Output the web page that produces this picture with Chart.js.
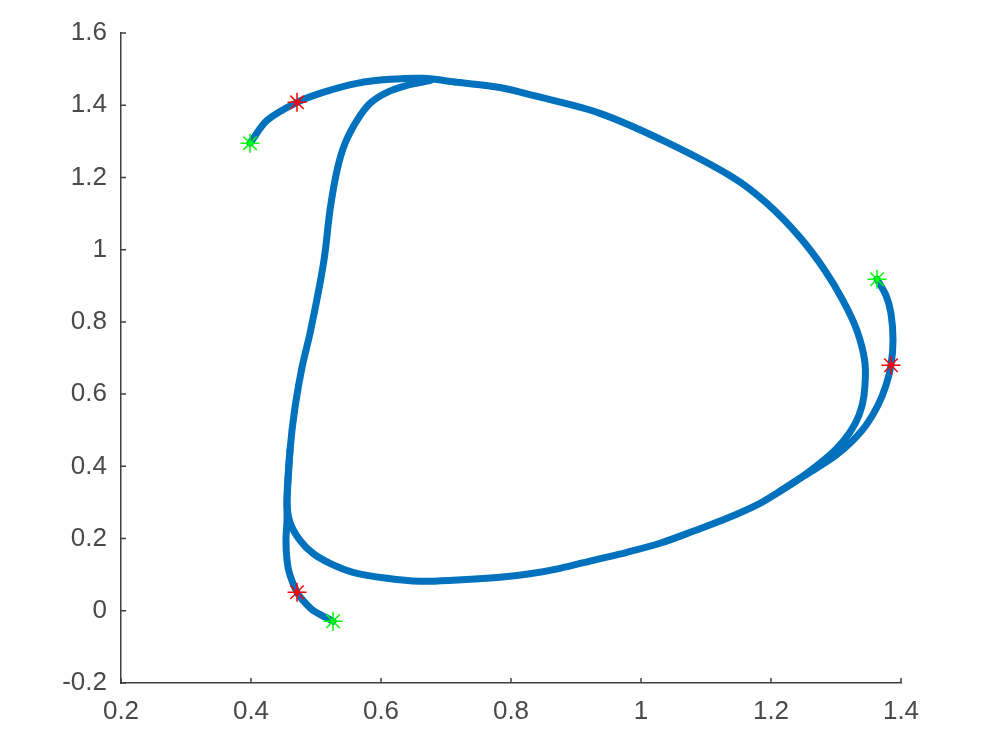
<!DOCTYPE html>
<html>
<head>
<meta charset="utf-8">
<script src="https://cdn.jsdelivr.net/npm/chart.js@4/dist/chart.umd.min.js"></script>
<style>
  body { margin: 0; background: #fff; }
  canvas { display: block; }
</style>
</head>
<body>
<canvas id="phase" width="1008" height="753"></canvas>
<script>
// trajectoire principale (départ en haut à gauche, puis le cycle)
var cycleX = [0.3985, 0.4246, 0.4708, 0.5108, 0.5631, 0.6138, 0.6646, 0.7169, 0.7831, 0.8338,
    0.9369, 1.040, 1.1415, 1.1938, 1.2446, 1.283, 1.3108, 1.3323, 1.3446, 1.3431,
    1.3354, 1.3215, 1.300, 1.2754, 1.2446, 1.2138, 1.1831, 1.1323, 1.080, 1.0292, 0.9785,
    0.9262, 0.8754, 0.8292, 0.7831, 0.7108, 0.660, 0.6092, 0.5569, 0.5215, 0.4954, 0.4754,
    0.460, 0.4554, 0.460, 0.4677, 0.4785, 0.4908, 0.5062, 0.5138, 0.5215, 0.5323,
    0.5446, 0.5631, 0.5831, 0.6092, 0.640, 0.6754];
var cycleY = [1.295, 1.358, 1.408, 1.4356, 1.4606, 1.4717, 1.4745, 1.4635, 1.449, 1.427,
    1.3775, 1.297, 1.200, 1.128, 1.034, 0.9425, 0.859, 0.776, 0.6855, 0.5967,
    0.5416, 0.4946, 0.4472, 0.4084, 0.3669, 0.3309, 0.2977, 0.2561, 0.2201, 0.1869, 0.162,
    0.1398, 0.1176, 0.1024, 0.0927, 0.0844, 0.0816, 0.090, 0.1066, 0.1315, 0.159, 0.195,
    0.245, 0.306, 0.4447, 0.5637, 0.6745, 0.7687, 0.907, 0.990, 1.109, 1.2193,
    1.294, 1.358, 1.405, 1.4356, 1.455, 1.468];

// trajectoire de droite
var rightX = [1.3631, 1.3769, 1.3846, 1.3877, 1.3846, 1.3769, 1.3646, 1.3462, 1.3246, 1.300,
    1.2723, 1.2446, 1.2138];
var rightY = [0.918, 0.8735, 0.8236, 0.749, 0.6798, 0.6244, 0.5691, 0.5138, 0.4693, 0.4306,
    0.3973, 0.3669, 0.3309];

// trajectoire du bas
var bottomX = [0.5262, 0.4954, 0.480, 0.4708, 0.460, 0.4554, 0.4538, 0.4554, 0.4554, 0.460];
var bottomY = [-0.0291, 0.0013, 0.029, 0.0512, 0.0983, 0.1398, 0.1952, 0.2506, 0.306, 0.4447];

// points de départ (vert) et marqueurs (rouge)
var startX = [0.3985, 1.3631, 0.5262];
var startY = [1.295, 0.918, -0.0291];
var markX = [0.4708, 1.3846, 0.4708];
var markY = [1.408, 0.6798, 0.0512];

var xTicks = [0.2, 0.4, 0.6, 0.8, 1, 1.2, 1.4];
var yTicks = [-0.2, 0, 0.2, 0.4, 0.6, 0.8, 1, 1.2, 1.4, 1.6];

function pts(xs, ys) {
    return xs.map(function (x, i) { return { x: x, y: ys[i] }; });
}

var bleu = '#0072bd';
var axe = '#404040';

function ligne(xs, ys) {
    return {
        data: pts(xs, ys),
        showLine: true,
        borderColor: bleu,
        borderWidth: 7,
        tension: 0.3,
        pointRadius: 0,
        borderCapStyle: 'round',
        borderJoinStyle: 'round',
        order: 2
    };
}

function etoiles(xs, ys, couleur) {
    return {
        data: pts(xs, ys),
        pointStyle: 'star',
        pointRadius: 9.5,
        borderColor: couleur,
        backgroundColor: couleur,
        pointBorderWidth: 1.5,
        order: 0
    };
}

// petits traits vers l'intérieur, comme matlab
var ticksInterieurs = {
    id: 'ticksInterieurs',
    afterDraw: function (chart) {
        var c = chart.ctx, a = chart.chartArea;
        var sx = chart.scales.x, sy = chart.scales.y;
        c.save();
        c.strokeStyle = axe;
        c.lineWidth = 1.5;
        c.beginPath();
        xTicks.forEach(function (v) {
            var px = sx.getPixelForValue(v);
            c.moveTo(px, a.bottom);
            c.lineTo(px, a.bottom - 5);
        });
        yTicks.forEach(function (v) {
            var py = sy.getPixelForValue(v);
            c.moveTo(a.left, py);
            c.lineTo(a.left + 5, py);
        });
        c.stroke();
        c.restore();
    }
};

var ctx = document.getElementById('phase');

var myChart = new Chart(ctx, {
    type: 'scatter',
    data: {
        datasets: [
            ligne(cycleX, cycleY),
            ligne(rightX, rightY),
            ligne(bottomX, bottomY),
            etoiles(startX, startY, '#00ff00'),
            etoiles(markX, markY, '#ff0000')
        ]
    },
    options: {
        responsive: false,
        animation: false,
        layout: { padding: { top: 33, right: 107, left: 0, bottom: 0 } },
        plugins: {
            legend: { display: false },
            tooltip: { enabled: false }
        },
        scales: {
            x: {
                type: 'linear',
                min: 0.2,
                max: 1.4,
                afterFit: function (s) { s.height = 70; },
                afterBuildTicks: function (s) {
                    s.ticks = xTicks.map(function (v) { return { value: v }; });
                },
                grid: { display: false, drawTicks: false },
                border: { display: true, color: axe, width: 1.5 },
                ticks: {
                    color: '#4a4a4a',
                    padding: 13,
                    maxRotation: 0,
                    font: { family: 'Liberation Sans', size: 26 },
                    callback: function (v) { return String(v); }
                }
            },
            y: {
                type: 'linear',
                min: -0.2,
                max: 1.6,
                afterFit: function (s) { s.width = 121; },
                afterBuildTicks: function (s) {
                    s.ticks = yTicks.map(function (v) { return { value: v }; });
                },
                grid: { display: false, drawTicks: false },
                border: { display: true, color: axe, width: 1.5 },
                ticks: {
                    color: '#4a4a4a',
                    padding: 14,
                    font: { family: 'Liberation Sans', size: 26 },
                    callback: function (v) { return String(v); }
                }
            }
        }
    },
    plugins: [ticksInterieurs]
});
</script>
</body>
</html>
